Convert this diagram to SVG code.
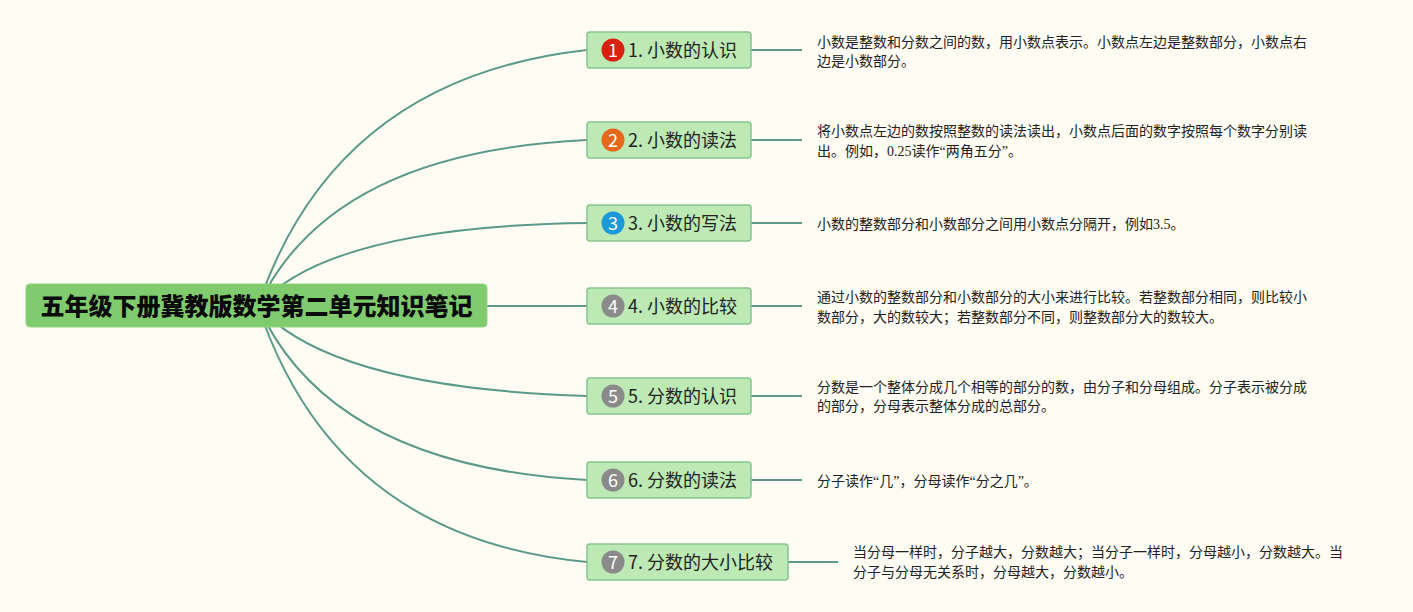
<svg xmlns="http://www.w3.org/2000/svg" width="1413" height="612" viewBox="0 0 1413 612">
<style>
.bg{fill:#fefcf3}
.conn{fill:none;stroke:#5b9a87;stroke-width:2}
.root{fill:#7fcb6e;stroke:#8fd480;stroke-width:1}
.roott{font-family:"Noto Sans CJK SC",sans-serif;font-size:24px;font-weight:900;fill:#0a0a0a;text-anchor:middle}
.node{fill:#bde9b5;stroke:#86c48e;stroke-width:1.5}
.nt{font-family:"Noto Sans CJK SC",sans-serif;font-size:18px;fill:#222}
.bt{font-family:"Noto Sans CJK SC",sans-serif;font-size:18px;fill:#fff;text-anchor:middle}
.note{font-family:"Liberation Serif","Noto Sans CJK SC",serif;font-size:14px;fill:#222}
</style>
<rect class="bg" x="0" y="0" width="1413" height="612"/>
<g id="connectors">
<path class="conn" d="M258 306 Q335 78 587 50"/>
<path class="conn" d="M258 306 Q330 152 587 140"/>
<path class="conn" d="M258 306 Q330 226 587 223"/>
<path class="conn" d="M487 306 L587 306"/>
<path class="conn" d="M258 306 Q330 388 587 396"/>
<path class="conn" d="M258 306 Q330 466 587 480"/>
<path class="conn" d="M258 306 Q335 538 587 562"/>
<path class="conn" d="M751 50 H802"/>
<path class="conn" d="M751 140 H802"/>
<path class="conn" d="M751 223 H802"/>
<path class="conn" d="M751 306 H802"/>
<path class="conn" d="M751 396 H802"/>
<path class="conn" d="M751 480 H802"/>
<path class="conn" d="M788 562 H838"/>
</g>
<g id="root">
<rect class="root" x="26" y="284" width="461" height="43" rx="4"/>
<text class="roott" x="256.5" y="315">五年级下册冀教版数学第二单元知识笔记</text>
</g>
<g id="n1">
<rect class="node" x="587" y="32" width="164" height="36" rx="3"/>
<circle cx="613" cy="50" r="11.5" fill="#d8220f"/>
<text class="bt" x="613" y="56.5">1</text>
<text class="nt" x="628" y="56.5">1. 小数的认识</text>
</g>
<g id="n2">
<rect class="node" x="587" y="122" width="164" height="36" rx="3"/>
<circle cx="613" cy="140" r="11.5" fill="#e5681b"/>
<text class="bt" x="613" y="146.5">2</text>
<text class="nt" x="628" y="146.5">2. 小数的读法</text>
</g>
<g id="n3">
<rect class="node" x="587" y="205" width="164" height="36" rx="3"/>
<circle cx="613" cy="223" r="11.5" fill="#1c9ad8"/>
<text class="bt" x="613" y="229.5">3</text>
<text class="nt" x="628" y="229.5">3. 小数的写法</text>
</g>
<g id="n4">
<rect class="node" x="587" y="288" width="164" height="36" rx="3"/>
<circle cx="613" cy="306" r="11.5" fill="#8a8a8a"/>
<text class="bt" x="613" y="312.5">4</text>
<text class="nt" x="628" y="312.5">4. 小数的比较</text>
</g>
<g id="n5">
<rect class="node" x="587" y="378" width="164" height="36" rx="3"/>
<circle cx="613" cy="396" r="11.5" fill="#8a8a8a"/>
<text class="bt" x="613" y="402.5">5</text>
<text class="nt" x="628" y="402.5">5. 分数的认识</text>
</g>
<g id="n6">
<rect class="node" x="587" y="462" width="164" height="36" rx="3"/>
<circle cx="613" cy="480" r="11.5" fill="#8a8a8a"/>
<text class="bt" x="613" y="486.5">6</text>
<text class="nt" x="628" y="486.5">6. 分数的读法</text>
</g>
<g id="n7">
<rect class="node" x="587" y="544" width="201" height="36" rx="3"/>
<circle cx="613" cy="562" r="11.5" fill="#8a8a8a"/>
<text class="bt" x="613" y="568.5">7</text>
<text class="nt" x="628" y="568.5">7. 分数的大小比较</text>
</g>
<g id="note1">
<text class="note" x="817" y="46.5">小数是整数和分数之间的数，用小数点表示。小数点左边是整数部分，小数点右</text>
<text class="note" x="817" y="65.5">边是小数部分。</text>
</g>
<g id="note2">
<text class="note" x="817" y="136">将小数点左边的数按照整数的读法读出，小数点后面的数字按照每个数字分别读</text>
<text class="note" x="817" y="156">出。例如，0.25读作“两角五分”。</text>
</g>
<g id="note3">
<text class="note" x="817" y="228.5">小数的整数部分和小数部分之间用小数点分隔开，例如3.5。</text>
</g>
<g id="note4">
<text class="note" x="817" y="302">通过小数的整数部分和小数部分的大小来进行比较。若整数部分相同，则比较小</text>
<text class="note" x="817" y="322">数部分，大的数较大；若整数部分不同，则整数部分大的数较大。</text>
</g>
<g id="note5">
<text class="note" x="817" y="391.5">分数是一个整体分成几个相等的部分的数，由分子和分母组成。分子表示被分成</text>
<text class="note" x="817" y="411">的部分，分母表示整体分成的总部分。</text>
</g>
<g id="note6">
<text class="note" x="817" y="485.5">分子读作“几”，分母读作“分之几”。</text>
</g>
<g id="note7">
<text class="note" x="853" y="557">当分母一样时，分子越大，分数越大；当分子一样时，分母越小，分数越大。当</text>
<text class="note" x="853" y="577">分子与分母无关系时，分母越大，分数越小。</text>
</g>
</svg>
